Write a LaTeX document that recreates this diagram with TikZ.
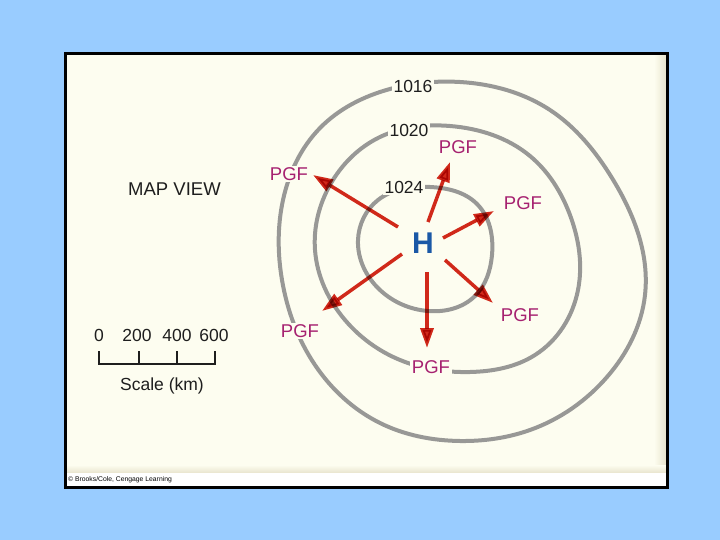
\documentclass[tikz,border=0pt]{standalone}
\usepackage{fontspec}
\setmainfont{Liberation Sans}
\usetikzlibrary{arrows.meta,hobby}
\definecolor{bgblue}{RGB}{153,204,255}
\definecolor{cream}{RGB}{253,253,240}
\definecolor{beige}{RGB}{232,228,205}
\definecolor{contourgray}{RGB}{152,152,150}
\definecolor{pgfred}{RGB}{210,42,28}
\definecolor{pgfmag}{RGB}{166,33,112}
\definecolor{hblue}{RGB}{26,88,166}
\definecolor{txt}{RGB}{30,30,30}
\tikzset{
  contour/.style={draw=contourgray, line width=4pt, line join=round},
  isolabel/.style={fill=cream, inner sep=2pt, text=txt, font=\fontsize{17.5}{17.5}\selectfont},
  pgflabel/.style={fill=cream, inner sep=1.5pt, text=pgfmag, font=\fontsize{18.5}{18.5}\selectfont},
  pgfarrow/.style={draw=pgfred, line width=3.5pt, -{Triangle[length=20pt,width=13pt]}},
  scalelabel/.style={text=txt, font=\fontsize{17.5}{17.5}\selectfont, inner sep=0pt},
}
\begin{document}
\begin{tikzpicture}[x=1pt,y=-1pt]
\useasboundingbox (0,0) rectangle (720,540);
\fill[bgblue] (0,0) rectangle (720,540);
% panel
\fill[cream] (65,53) rectangle (667,487);
\shade[left color=cream, right color=beige] (654,55) rectangle (666,473);
\shade[top color=cream, bottom color=beige] (67,465) rectangle (666,473);
\fill[white] (66,473) rectangle (666,486);
\draw[black, line width=3pt] (65.8,53.8) rectangle (667.3,487.3);
\node[anchor=west, inner sep=0pt, font=\fontsize{6.8}{6.8}\selectfont, text=black] (copy) at (68,480) {\textcopyright\ Brooks/Cole, Cengage Learning};

% contours
\draw[contour, use Hobby shortcut, closed=true]
 (460,82) .. (550,110) .. (612,178) .. (645,295) .. (607,377) .. (530,430) .. (460,441)
 .. (380,423) .. (315,365) .. (282,280) .. (283,200) .. (320,128) .. (390,89);
\draw[contour, use Hobby shortcut, closed=true]
 (450,126) .. (530,156) .. (570,215) .. (578,290) .. (535,355) .. (470,372)
 .. (400,360) .. (345,320) .. (315,250) .. (330,185) .. (380,137);
\draw[contour, use Hobby shortcut, closed=true]
 (430,187) .. (477,204) .. (492,255) .. (475,296) .. (428,311)
 .. (380,290) .. (358,240) .. (378,200);

% isobar labels
\node[isolabel] (l1016) at (413,86) {1016};
\node[isolabel] (l1020) at (409,130) {1020};
\node[isolabel] (l1024) at (404,187) {1024};

% PGF labels
\node[pgflabel] (pnw) at (289,174) {PGF};
\node[pgflabel] (pn)  at (458,147) {PGF};
\node[pgflabel] (pne) at (523,203) {PGF};
\node[pgflabel] (pse) at (520,315) {PGF};
\node[pgflabel] (ps)  at (431,367) {PGF};
\node[pgflabel] (psw) at (300,331) {PGF};

% high
\node[text=hblue, font=\fontsize{30}{30}\selectfont\bfseries, inner sep=0pt] (H) at (423,243) {H};

% arrows
\coordinate (anwS) at (398,227); \coordinate (anwE) at (313,175);
\coordinate (anS) at (428,222);  \coordinate (anE) at (450,162);
\coordinate (aneS) at (443,238); \coordinate (aneE) at (494,211);
\coordinate (aswS) at (402,254); \coordinate (aswE) at (322,311);
\coordinate (asS) at (427,272);  \coordinate (asE) at (427,348);
\coordinate (aseS) at (445,260); \coordinate (aseE) at (493,303);
\begin{scope}[blend mode=multiply]
\draw[pgfarrow] (anwS) -- (anwE);
\draw[pgfarrow] (anS) -- (anE);
\draw[pgfarrow] (aneS) -- (aneE);
\draw[pgfarrow] (aswS) -- (aswE);
\draw[pgfarrow] (asS) -- (asE);
\draw[pgfarrow] (aseS) -- (aseE);
\end{scope}

% map view
\node[text=txt, font=\fontsize{18.5}{18.5}\selectfont, inner sep=0pt] (mapview) at (174.5,189.5) {MAP VIEW};

% scale bar
\node[scalelabel] (s0) at (99,335) {0};
\node[scalelabel] (s200) at (137,335) {200};
\node[scalelabel] (s400) at (177,335) {400};
\node[scalelabel] (s600) at (214,335) {600};
\coordinate (b0) at (99,351); \coordinate (b0b) at (99,364);
\coordinate (b3) at (215,351); \coordinate (b3b) at (215,364);
\coordinate (b1) at (139,351); \coordinate (b1b) at (139,364);
\coordinate (b2) at (177,351); \coordinate (b2b) at (177,364);
\draw[txt, line width=1.8pt] (b0) -- (b0b) -- (b3b) -- (b3);
\draw[txt, line width=1.3pt] (b1) -- (b1b);
\draw[txt, line width=1.3pt] (b2) -- (b2b);
\node[scalelabel] (scale) at (162,386) {Scale (km)};
\end{tikzpicture}
\end{document}
